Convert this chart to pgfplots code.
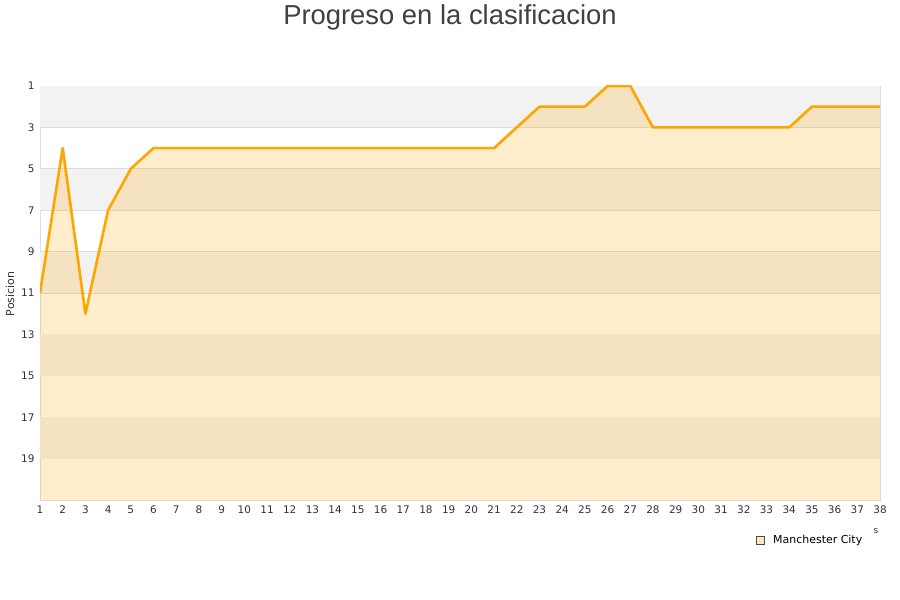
\documentclass[border=0pt]{standalone}
\usepackage{pgfplots}
\pgfplotsset{compat=1.18}
\usepackage{fontspec}
\setmainfont{DejaVu Sans}
\newfontfamily\titlefont{Liberation Sans}
\definecolor{tickc}{HTML}{333333}
\definecolor{gridc}{HTML}{DDDDDD}
\definecolor{bandc}{HTML}{F2F2F2}
\definecolor{lineor}{HTML}{FFA500}
\begin{document}
\begin{tikzpicture}[x=1bp,y=1bp]
\path[use as bounding box] (0,0) rectangle (900,600);
\node[font=\titlefont\fontsize{27.5}{32}\selectfont, text=black!75] at (450,583) {Progreso en la clasificacion};
\begin{axis}[
  at={(40bp,100bp)}, anchor=south west,
  scale only axis, width=840bp, height=414bp,
  xmin=1, xmax=38, ymin=1, ymax=21, y dir=reverse,
  xtick={1,...,38}, ytick={1,3,...,19},
  tick style={draw=none},
  axis line style={draw=gridc},
  ymajorgrids, grid style={gridc, line width=0.6bp},
  tick label style={font=\fontsize{10.5}{12}\selectfont, text=tickc},
  /pgf/number format/assume math mode=true,
  xticklabel style={yshift=-2bp},
  yticklabel style={xshift=-2bp},
  ylabel={Posicion}, ylabel style={font=\fontsize{11}{12}\selectfont, text=tickc, xshift=-1bp},
  every axis y label/.append style={at={(ticklabel cs:0.5)}},
  clip=true, axis on top=false,
]
\fill[bandc] (axis cs:1,1) rectangle (axis cs:38,3);
\fill[bandc] (axis cs:1,5) rectangle (axis cs:38,7);
\fill[bandc] (axis cs:1,9) rectangle (axis cs:38,11);
\fill[bandc] (axis cs:1,13) rectangle (axis cs:38,15);
\fill[bandc] (axis cs:1,17) rectangle (axis cs:38,19);
\addplot[draw=none, fill=lineor, fill opacity=0.2] coordinates {
(1,11)(2,4)(3,12)(4,7)(5,5)(6,4)(7,4)(8,4)(9,4)(10,4)(11,4)(12,4)(13,4)(14,4)(15,4)(16,4)(17,4)(18,4)(19,4)(20,4)(21,4)(22,3)(23,2)(24,2)(25,2)(26,1)(27,1)(28,3)(29,3)(30,3)(31,3)(32,3)(33,3)(34,3)(35,2)(36,2)(37,2)(38,2)(38,21)(1,21)} -- cycle;
\addplot[lineor, line width=2.6bp, line join=round, mark=none] coordinates {
(1,11)(2,4)(3,12)(4,7)(5,5)(6,4)(7,4)(8,4)(9,4)(10,4)(11,4)(12,4)(13,4)(14,4)(15,4)(16,4)(17,4)(18,4)(19,4)(20,4)(21,4)(22,3)(23,2)(24,2)(25,2)(26,1)(27,1)(28,3)(29,3)(30,3)(31,3)(32,3)(33,3)(34,3)(35,2)(36,2)(37,2)(38,2)};
\end{axis}
\draw[draw=black!70, fill=lineor!25, line width=0.5bp] (756,56) rectangle (764,64);
\node[anchor=west, font=\fontsize{11}{12}\selectfont, text=black, inner sep=0] at (773,60) {Manchester City};
\node[font=\fontsize{9}{10}\selectfont, text=tickc, inner sep=0] at (876,69) {s};
\end{tikzpicture}
\end{document}
